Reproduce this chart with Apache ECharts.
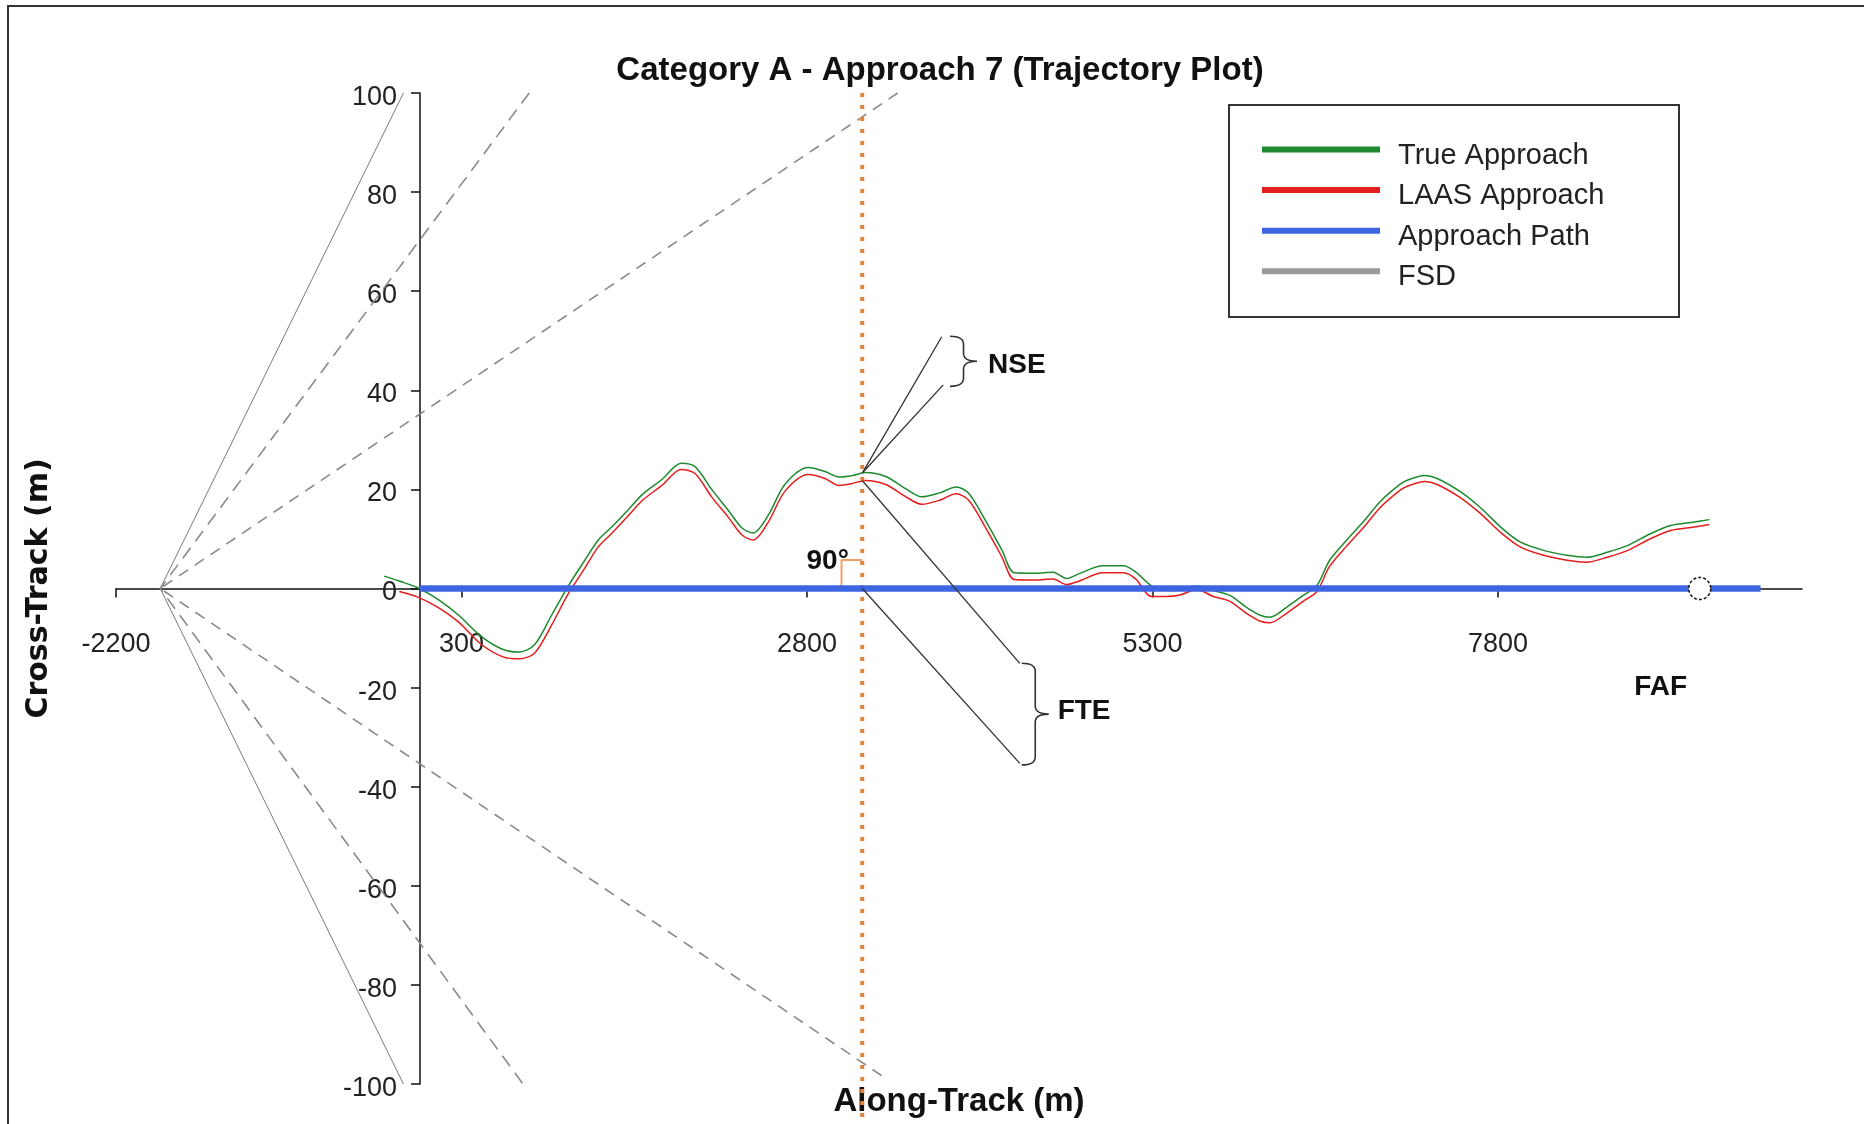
<!DOCTYPE html>
<html><head><meta charset="utf-8">
<script src="https://cdn.jsdelivr.net/npm/echarts@6/dist/echarts.min.js"></script>
<style>html,body{margin:0;padding:0;background:#fff}#c{width:1864px;height:1124px}</style>
</head><body><div id="c"></div>
<script>
// ---- data ----
const alongTrack = [-260,-150,-20,130,280,440,600,720,830,950,
 1070,1190,1290,1390,1510,1610,1750,1890,1990,2110,
 2230,2330,2410,2520,2640,2810,2930,3030,3130,3220,
 3370,3510,3630,3760,3880,3970,4090,4210,4300,4450,
 4580,4680,4770,4940,5090,5180,5290,5400,5500,5620,
 5740,5860,5980,6080,6150,6270,6390,6490,6580,6700,
 6830,6950,7090,7140,7270,7360,7530,7670,7820,7960,
 8130,8300,8440,8590,8740,8900,9050,9220,9330];
const trueCross = [2.5,1.5,0.2,-2.2,-5.4,-9.6,-12.3,-12.8,-11.3,-5.5,
 0.4,5.6,9.8,12.5,16,19,22,25.3,24.6,20,
 15.8,12.2,11.2,14.8,21,24.4,23.6,22.5,22.8,23.4,
 22.6,20.2,18.5,19.3,20.5,19.2,13.8,7.8,3.2,3.1,
 3.3,2,3,4.6,4.6,3.3,0.6,-0.4,-0.3,0.5,
 -0.4,-1.4,-3.8,-5.4,-5.8,-3.8,-1.4,0.6,5.6,9.6,
 13.6,17.6,21,21.8,22.8,22.2,19.5,16.4,12.4,9.4,
 7.7,6.7,6.3,7.3,8.7,11,12.7,13.4,13.9];
const laasCross = [null,-0.6,-1.7,-3.8,-6.8,-11.2,-13.8,-14.2,-13,-7.5,
 -1.2,4,8.4,11.2,14.8,17.8,20.8,24,23.2,18.5,
 14.4,10.8,9.8,13.4,19.6,23,22.2,20.8,21.2,21.8,
 21,18.6,17,17.8,19.1,17.8,12.4,6.4,1.8,1.7,
 1.9,0.8,1.5,3.2,3.2,1.9,-1.6,-1.6,-1.3,-0.2,
 -1.6,-2.6,-5,-6.6,-6.9,-5,-2.6,-0.6,4.4,8.4,
 12.4,16.4,19.8,20.6,21.6,21,18.3,15.2,11.3,8.4,
 6.7,5.7,5.3,6.3,7.7,10,11.7,12.4,12.9];
const xTickValues = [-2200, 300, 2800, 5300, 7800];
const xRange = [-2200, 10000];
const yRange = [-100, 100];
const approachPath = [[0, 0], [9700, 0]];
const fafPoint = [[9260, 0]];
const fsdSolid = [[-120, 100], [-1880, 0], [-120, -100]];
const fsdDashSteep = [[790, 100], [-1880, 0], [745, -100]];
const fsdDashShallow = [[3457, 100], [-1880, 0], [3350, -98.5]];
const measureLine = [[3200, 100], [3200, -108]];
const rightAngle = [[3050, 0], [3050, 5.75], [3200, 5.75]];
const nseLines = [[3775, 50.8], [3200, 23.3], [3786, 41.1]];
const fteUpper = [[3200, 21.8], [4340, -15.1]];
const fteLower = [[3200, 0], [4340, -35.3]];
const braceAnchors = [[3835, 50.9, 40.8], [4354, -15.1, -35.6]];
const labelAnchors = [[4318, 45.1], [4805, -24.7], [8977, -19.9], [2950, 5.4]];
const labelTexts = ['NSE', 'FTE', 'FAF', '90°'];

// ---- styles / layout ----
const FONT = '"Liberation Sans", Arial, Helvetica, sans-serif';
const GREEN = '#1e8a2e', RED = '#e41e1e', BLUE = '#3d65e2', GRAY = '#9a9a9a', ORANGE = '#e3803a';
const BRACE_W = 27;
const GRID = {left: 116, top: 93, width: 1686, height: 991};
// axes cross at zero: shift each axis from the grid edge onto the zero line
const yAxisOffset = -(0 - xRange[0]) / (xRange[1] - xRange[0]) * GRID.width;
const xAxisOffset = -(0 - yRange[0]) / (yRange[1] - yRange[0]) * GRID.height;
const pairs = (xs, ys) => xs.map((x, i) => ys[i] == null ? null : [x, ys[i]]).filter(Boolean);

const chart = echarts.init(document.getElementById('c'), null, {renderer: 'canvas'});

function renderBrace(params, api) {
  const top = api.coord([api.value(0), api.value(1)]);
  const bot = api.coord([api.value(0), api.value(2)]);
  const x0 = top[0], x1 = x0 + BRACE_W * 0.5, x2 = x0 + BRACE_W;
  const t = top[1], b = bot[1], m = (t + b) / 2;
  const r = Math.min(8, (b - t) / 4);
  const d = `M${x0},${t} Q${x1},${t} ${x1},${t + r} L${x1},${m - r} Q${x1},${m} ${x2},${m} Q${x1},${m} ${x1},${m + r} L${x1},${b - r} Q${x1},${b} ${x0},${b}`;
  return {type: 'path', shape: {pathData: d}, style: {stroke: '#333', fill: null, lineWidth: 1.6}};
}
function renderLabel(params, api) {
  const p = api.coord([api.value(0), api.value(1)]);
  return {type: 'text', x: p[0], y: p[1], style: {
    text: labelTexts[params.dataIndex], fill: '#111',
    font: 'bold 28px ' + FONT, align: 'center', verticalAlign: 'middle'}};
}

const thinLine = (name, data, color, width, type, z) => ({
  type: 'line', name, data, showSymbol: false, symbol: 'none', silent: true, z: z || 2,
  lineStyle: {color, width, type: type || 'solid', cap: 'butt'}, itemStyle: {color}
});

const option = {
  animation: false,
  backgroundColor: '#fff',
  title: {text: 'Category A - Approach 7 (Trajectory Plot)', left: 940, textAlign: 'center', top: 54, padding: 0,
    textStyle: {fontFamily: FONT, fontWeight: 'bold', fontSize: 33, color: '#111'}},
  grid: Object.assign({containLabel: false, outerBoundsMode: 'none'}, GRID),
  xAxis: {
    type: 'value', min: xRange[0], max: xRange[1], position: 'bottom', offset: xAxisOffset,
    name: 'Along-Track (m)', nameLocation: 'middle', nameGap: 497,
    nameTextStyle: {fontFamily: FONT, fontWeight: 'bold', fontSize: 33, color: '#111'},
    axisLine: {onZero: false, lineStyle: {color: '#111', width: 1.5}},
    axisTick: {customValues: xTickValues, length: 9, lineStyle: {color: '#111', width: 1.5}},
    axisLabel: {customValues: xTickValues, formatter: v => String(v), margin: 43,
      fontFamily: FONT, fontSize: 27, color: '#222'},
    splitLine: {show: false}
  },
  yAxis: {
    type: 'value', min: yRange[0], max: yRange[1], interval: 20, position: 'left', offset: yAxisOffset,
    name: 'Cross-Track (m)', nameLocation: 'middle', nameGap: 366, nameRotate: 90,
    nameTextStyle: {fontFamily: '"DejaVu Sans", sans-serif', fontWeight: 'bold', fontSize: 30, color: '#111'},
    axisLine: {onZero: false, lineStyle: {color: '#111', width: 1.5}},
    axisTick: {length: 9, lineStyle: {color: '#111', width: 1.5}},
    axisLabel: {margin: 23, verticalAlign: 'top', lineHeight: 9, formatter: v => String(v),
      fontFamily: FONT, fontSize: 27, color: '#222'},
    splitLine: {show: false}
  },
  legend: {
    orient: 'vertical', left: 1262, top: 141, padding: 0, itemGap: 11.6,
    itemWidth: 118, itemHeight: 18, selectedMode: false,
    icon: 'path://M0,0L118,0L118,6L0,6Z M0,18L1,18Z',
    data: [
      {name: 'True Approach', itemStyle: {color: GREEN}},
      {name: 'LAAS Approach', itemStyle: {color: RED}},
      {name: 'Approach Path', itemStyle: {color: BLUE}},
      {name: 'FSD', itemStyle: {color: GRAY}}
    ],
    itemStyle: {borderWidth: 0},
    textStyle: {fontFamily: FONT, fontSize: 29, color: '#222', lineHeight: 29, padding: [0, 0, 0, 13]}
  },
  graphic: [
    {type: 'rect', z: 100, silent: true, shape: {x: 8, y: 6, width: 1900, height: 1200},
      style: {stroke: '#333', lineWidth: 2, fill: null}},
    {type: 'rect', z: 100, silent: true, shape: {x: 1229, y: 105, width: 450, height: 212},
      style: {stroke: '#333', lineWidth: 2, fill: null}}
  ],
  series: [
    thinLine('FSD', fsdSolid, '#7a7a7a', 1),
    thinLine('FSD', fsdDashSteep, '#8a8a8a', 1.6, [13, 8]),
    thinLine('FSD', fsdDashShallow, '#8a8a8a', 1.6, [11, 8]),
    Object.assign(thinLine('LAAS Approach', pairs(alongTrack, laasCross), RED, 1.5), {smooth: 0.3}),
    Object.assign(thinLine('True Approach', pairs(alongTrack, trueCross), GREEN, 1.5), {smooth: 0.3}),
    Object.assign(thinLine('measure', measureLine, ORANGE, 4, [4, 8], 3), {clip: false}),
    thinLine('angle', rightAngle, '#f2a066', 2, 'solid', 3),
    thinLine('Approach Path', approachPath, BLUE, 6.5, 'solid', 4),
    thinLine('nse', nseLines, '#333', 1.3, 'solid', 5),
    thinLine('fteU', fteUpper, '#333', 1.3, 'solid', 5),
    thinLine('fteL', fteLower, '#333', 1.3, 'solid', 5),
    {type: 'scatter', name: 'FAF point', data: fafPoint, symbol: 'circle', symbolSize: 22, z: 6, silent: true,
      itemStyle: {color: '#fff', opacity: 1, borderColor: '#111', borderWidth: 1.5, borderType: [3, 2]}},
    {type: 'custom', name: 'braces', data: braceAnchors, renderItem: renderBrace, z: 6, silent: true,
      encode: {x: 0, y: [1, 2]}},
    {type: 'custom', name: 'labels', data: labelAnchors, renderItem: renderLabel, z: 6, silent: true,
      encode: {x: 0, y: 1}}
  ]
};
chart.setOption(option);
</script></body></html>
